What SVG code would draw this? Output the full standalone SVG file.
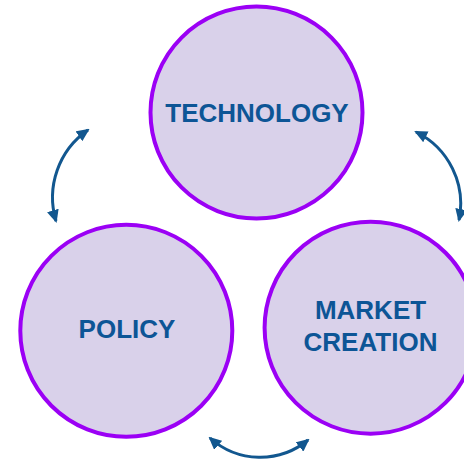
<svg xmlns="http://www.w3.org/2000/svg" width="464" height="464" viewBox="0 0 464 464">
<style>
.node circle{fill:#D9D1EA;stroke:#9B00F5;stroke-width:4}
.node text{font-family:"Liberation Sans",Arial,sans-serif;font-weight:bold;font-size:26px;fill:#0D5596;text-anchor:middle}
.conn path{fill:none;stroke:#12578F;stroke-width:3}
</style>
<defs>
<marker id="ah" markerUnits="userSpaceOnUse" markerWidth="13" markerHeight="12" refX="11" refY="6" orient="auto-start-reverse" viewBox="0 0 13 12">
<path d="M0,0 L13,6 L0,12 z" fill="#12578F"/>
</marker>
</defs>
<rect width="464" height="464" fill="#fff"/>
<g id="technology" class="node">
<circle cx="256.5" cy="112.5" r="106"/>
<text x="257" y="121.5">TECHNOLOGY</text>
</g>
<g id="policy" class="node">
<circle cx="126.3" cy="330.8" r="106"/>
<text x="127" y="337.5">POLICY</text>
</g>
<g id="market-creation" class="node">
<circle cx="370.6" cy="327.7" r="106"/>
<text x="370.5" y="319">MARKET</text>
<text x="370.5" y="351">CREATION</text>
</g>
<g id="connectors" class="conn">
<path d="M88,130 A82,82 0 0 0 56,221" marker-start="url(#ah)" marker-end="url(#ah)"/>
<path d="M416,132 A80,80 0 0 1 459,220" marker-start="url(#ah)" marker-end="url(#ah)"/>
<path d="M210,438 A75,75 0 0 0 308,440" marker-start="url(#ah)" marker-end="url(#ah)"/>
</g>
</svg>
